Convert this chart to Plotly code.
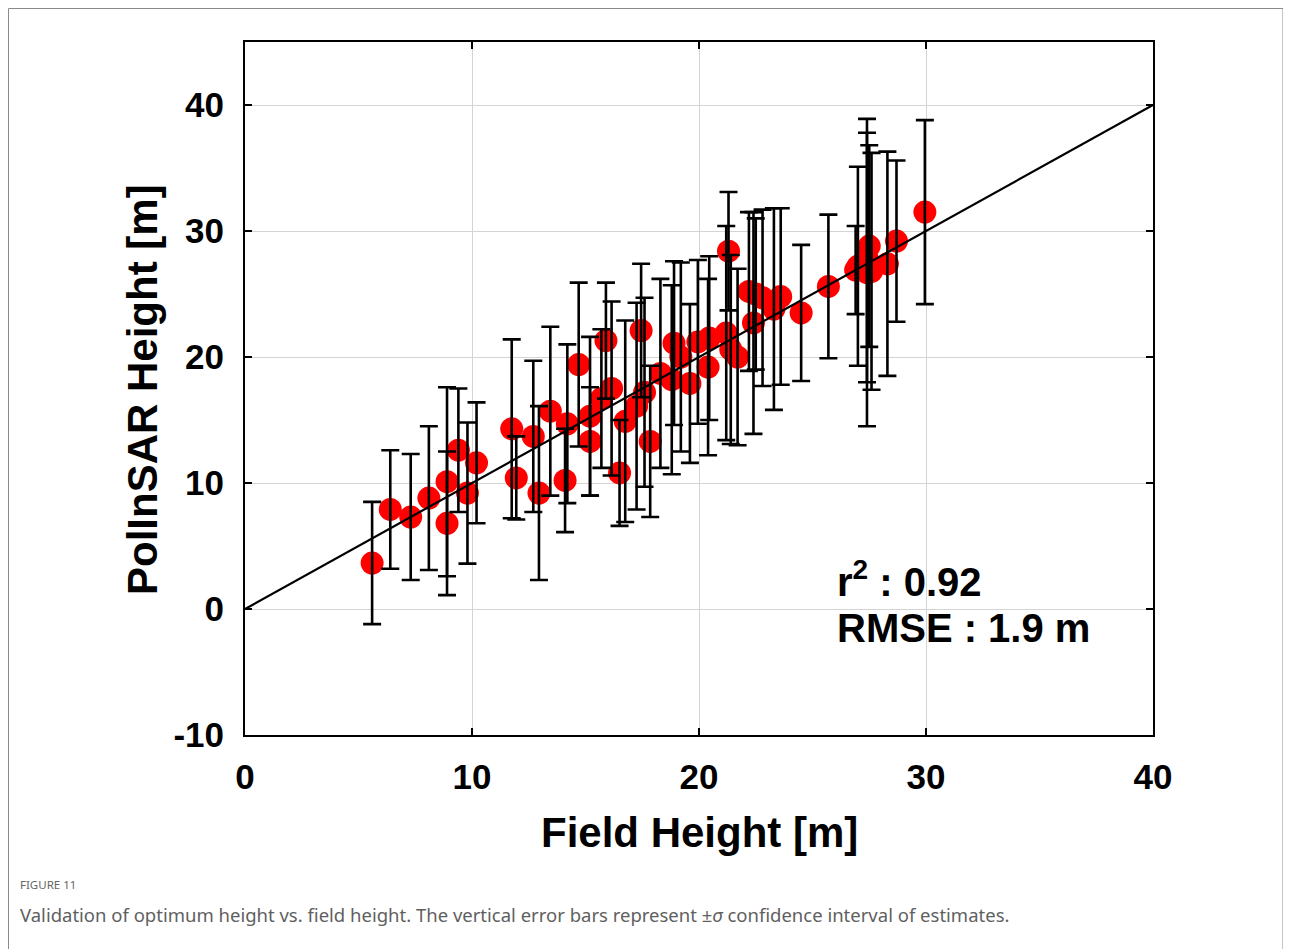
import plotly.graph_objects as go

# Field height (x), PolInSAR height (y), +/- sigma error
field_height = [5.6, 6.4, 7.3, 8.1, 8.9, 8.9, 9.4, 9.8, 10.2, 11.75,
                11.95, 12.7, 12.95, 13.45, 14.1, 14.2, 14.7, 15.2, 15.2, 15.7,
                15.9, 16.15, 16.5, 16.75, 17.25, 17.45, 17.6, 17.85, 18.3, 18.8,
                18.9, 19.2, 19.6, 19.95, 20.4, 20.45, 21.2, 21.3, 21.4, 21.7,
                22.2, 22.4, 22.5, 22.8, 23.3, 23.6, 24.5, 25.7, 26.9, 27.0,
                27.4, 27.4, 27.5, 27.6, 28.3, 28.7, 29.95]
polinsar_height = [3.65, 7.9, 7.3, 8.8, 10.1, 6.8, 12.6, 9.2, 11.6, 14.3,
                   10.4, 13.7, 9.2, 15.7, 10.2, 14.7, 19.4, 13.3, 15.3, 16.7,
                   21.3, 17.5, 10.8, 14.9, 16.1, 22.1, 17.2, 13.3, 18.7, 18.2,
                   21.1, 20.0, 17.9, 21.2, 19.2, 21.5, 21.9, 28.4, 20.6, 20.0,
                   25.2, 22.7, 25.0, 24.7, 23.8, 24.8, 23.5, 25.6, 26.9, 27.2,
                   26.7, 27.9, 28.8, 26.8, 27.4, 29.2, 31.5]
sigma = [4.85, 4.7, 5.0, 5.7, 7.5, 5.7, 4.9, 5.6, 4.8, 7.1,
         3.3, 6.0, 6.9, 6.7, 4.1, 6.3, 6.5, 4.3, 6.3, 5.5,
         4.6, 6.9, 4.2, 8.0, 8.2, 5.3, 7.5, 6.0, 7.5, 7.5,
         6.5, 7.5, 6.3, 6.5, 7.0, 6.5, 8.5, 4.7, 7.5, 7.0,
         6.3, 8.8, 6.0, 7.0, 8.0, 7.0, 5.4, 5.7, 3.5, 7.9,
         12.2, 9.9, 8.0, 9.4, 8.9, 6.4, 7.3]

one_to_one_x = [0, 40]
one_to_one_y = [0, 40]

x_ticks = [0, 10, 20, 30, 40]
x_tick_labels = ["0", "10", "20", "30", "40"]
y_ticks = [-10, 0, 10, 20, 30, 40]
y_tick_labels = ["-10", "0", "10", "20", "30", "40"]

OFF = 8  # page body margin
W, H = 1291 - OFF, 949 - OFF
# plot area in page pixels
L, R, T, B = 245, 1153, 42, 735


def px(xp):
    return (xp - L) / (R - L)


def py(yp):
    return (B - yp) / (B - T)


fig = go.Figure()

fig.add_trace(go.Scatter(
    x=field_height, y=polinsar_height, mode="markers",
    marker=dict(color="#ff0000", size=23, line=dict(width=0)),
    showlegend=False, hoverinfo="skip"))

fig.add_trace(go.Scatter(
    x=one_to_one_x, y=one_to_one_y, mode="lines",
    line=dict(color="black", width=2.2), showlegend=False, hoverinfo="skip"))

fig.add_trace(go.Scatter(
    x=field_height, y=polinsar_height, mode="markers",
    marker=dict(color="rgba(0,0,0,0)", size=2),
    error_y=dict(type="data", array=sigma, visible=True, color="black",
                 thickness=2.6, width=9),
    showlegend=False, hoverinfo="skip"))

tickfont = dict(family="Arial, Liberation Sans, sans-serif", size=35,
                color="black", weight="bold")
axis_common = dict(showgrid=True, gridcolor="#d4d4d4", gridwidth=1,
                   zeroline=False, showline=True, linecolor="black",
                   linewidth=2, mirror="allticks", ticks="inside",
                   ticklen=7, tickwidth=1.5, tickcolor="black",
                   tickfont=tickfont)

fig.update_xaxes(range=[0, 40], tickvals=x_ticks, ticktext=x_tick_labels,
                 ticklabelstandoff=10, **axis_common)
fig.update_yaxes(range=[-10, 45], tickvals=y_ticks, ticktext=y_tick_labels,
                 ticklabelstandoff=12, **axis_common)

annots = []
bold = dict(family="Arial, Liberation Sans, sans-serif", color="black",
            weight="bold")
annots.append(dict(x=px(699), y=py(832), xref="paper", yref="paper",
                   text="Field Height [m]", showarrow=False,
                   xanchor="center", yanchor="middle",
                   font=dict(size=42, **bold)))
annots.append(dict(x=px(142), y=py(390), xref="paper", yref="paper",
                   text="PolInSAR Height [m]", showarrow=False,
                   textangle=-90, xanchor="center", yanchor="middle",
                   font=dict(size=42, **bold)))
annots.append(dict(x=26.0, y=2.4, xref="x", yref="y",
                   text="r<sup>2</sup> : 0.92", showarrow=False,
                   xanchor="left", yanchor="middle",
                   font=dict(size=40, **bold)))
annots.append(dict(x=26.0, y=-1.5, xref="x", yref="y",
                   text="RMSE : 1.9 m", showarrow=False,
                   xanchor="left", yanchor="middle",
                   font=dict(size=40, **bold)))
annots.append(dict(x=px(18), y=py(884), xref="paper", yref="paper",
                   text="FIGURE 11", showarrow=False,
                   xanchor="left", yanchor="middle",
                   font=dict(family="Noto Sans, Open Sans, sans-serif",
                             size=11.5, color="#666666")))
annots.append(dict(x=px(18), y=py(914), xref="paper", yref="paper",
                   text="Validation of optimum height vs. field height. The vertical error bars represent \u00b1<i>\u03c3</i> confidence interval of estimates.",
                   showarrow=False, xanchor="left", yanchor="middle",
                   font=dict(family="Noto Sans, Open Sans, sans-serif",
                             size=18.5, color="#5f5f5f")))

shapes = [dict(type="rect", xref="paper", yref="paper",
               x0=px(8.5), x1=px(1283), y0=py(990), y1=py(8.5),
               line=dict(color="#8a8a8a", width=1), layer="below")]

fig.update_layout(width=W, height=H,
                  margin=dict(l=L - OFF, r=W - (R - OFF), t=T - OFF,
                              b=H - (B - OFF), autoexpand=False),
                  paper_bgcolor="white", plot_bgcolor="white",
                  annotations=annots, shapes=shapes, showlegend=False)

fig.write_html("out.html")
